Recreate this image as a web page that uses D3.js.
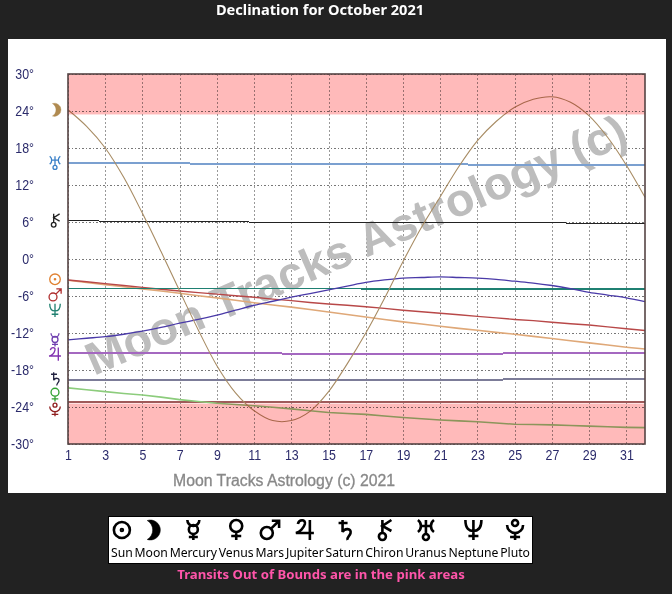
<!DOCTYPE html>
<html><head><meta charset="utf-8">
<script src="https://cdn.jsdelivr.net/npm/d3@7/dist/d3.min.js"></script>
<style>html,body{margin:0;padding:0;background:#222}svg{display:block}</style>
</head><body><svg id="c" width="672" height="594"></svg>
<script>
const days = [1,2,3,4,5,6,7,8,9,10,11,12,13,14,15,16,17,18,19,20,21,22,23,24,25,26,27,28,29,30,31,32];
const dayTicks = [1,3,5,7,9,11,13,15,17,19,21,23,25,27,29,31];
const degTicks = [30,24,18,12,6,0,-6,-12,-18,-24,-30];
const moon = [24.2,21.5,18,13.2,7.4,1.2,-5.2,-11.5,-17.3,-21.7,-24.6,-26.2,-26.2,-24.7,-21.5,-17,-12,-6.4,-0.4,5.2,10.1,15,19.2,22.3,24.6,25.9,26.3,25.4,23.2,19.7,15.2,10];
const uranus = [15.6,15.6,15.6,15.6,15.6,15.6,15.6,15.4,15.4,15.4,15.4,15.4,15.4,15.4,15.4,15.4,15.4,15.4,15.4,15.4,15.4,15.4,15.25,15.25,15.25,15.25,15.25,15.25,15.25,15.25,15.25,15.25];
const chiron = [6.25,6.25,6.12,6.12,6.12,6.12,6.12,6.12,6.12,6.12,5.95,5.95,5.95,5.95,5.95,5.95,5.95,5.95,5.95,5.95,5.95,5.95,5.95,5.95,5.95,5.95,5.95,5.8,5.8,5.8,5.8,5.8];
const neptune = [-4.75,-4.75,-4.75,-4.75,-4.75,-4.75,-4.75,-4.75,-4.75,-4.75,-4.75,-4.75,-4.75,-4.75,-4.75,-4.75,-4.85,-4.85,-4.85,-4.85,-4.85,-4.85,-4.85,-4.85,-4.85,-4.85,-4.85,-4.85,-4.85,-4.85,-4.85,-4.85];
const sun = [-3.45,-3.8,-4.15,-4.5,-4.85,-5.2,-5.55,-5.95,-6.3,-6.7,-7.1,-7.45,-7.8,-8.2,-8.6,-9,-9.4,-9.8,-10.2,-10.55,-10.9,-11.25,-11.55,-11.9,-12.2,-12.55,-12.9,-13.25,-13.6,-13.95,-14.3,-14.6];
const mars = [-3.4,-3.7,-4,-4.3,-4.6,-4.9,-5.2,-5.45,-5.7,-5.95,-6.2,-6.5,-6.75,-7.05,-7.3,-7.5,-7.75,-8,-8.3,-8.55,-8.8,-9.05,-9.3,-9.55,-9.8,-10,-10.25,-10.5,-10.7,-11,-11.3,-11.6];
const mercury = [-13.1,-12.85,-12.6,-12.2,-11.7,-11.1,-10.4,-9.8,-9.1,-8.3,-7.5,-6.85,-6.2,-5.6,-5,-4.4,-3.8,-3.4,-3.1,-3,-2.9,-3,-3.1,-3.3,-3.6,-3.9,-4.3,-4.8,-5.4,-5.85,-6.3,-6.9];
const jupiter = [-15.25,-15.25,-15.25,-15.25,-15.25,-15.25,-15.25,-15.25,-15.25,-15.25,-15.25,-15.25,-15.4,-15.4,-15.4,-15.4,-15.4,-15.4,-15.4,-15.4,-15.4,-15.4,-15.4,-15.4,-15.2,-15.2,-15.2,-15.2,-15.2,-15.2,-15.2,-15.2];
const saturn = [-19.6,-19.6,-19.6,-19.6,-19.6,-19.6,-19.6,-19.6,-19.6,-19.6,-19.6,-19.6,-19.6,-19.6,-19.6,-19.6,-19.6,-19.6,-19.6,-19.6,-19.6,-19.6,-19.6,-19.6,-19.45,-19.45,-19.45,-19.45,-19.45,-19.45,-19.45,-19.45];
const venus = [-20.9,-21.2,-21.5,-21.8,-22.05,-22.4,-22.8,-23.1,-23.4,-23.6,-23.8,-24.05,-24.3,-24.6,-24.9,-25.05,-25.2,-25.45,-25.7,-25.9,-26.1,-26.25,-26.4,-26.6,-26.8,-26.85,-26.9,-27,-27.1,-27.2,-27.3,-27.35];
const pluto = [-23.15,-23.15,-23.15,-23.15,-23.15,-23.15,-23.15,-23.15,-23.15,-23.15,-23.15,-23.15,-23.15,-23.15,-23.15,-23.15,-23.15,-23.15,-23.15,-23.15,-23.15,-23.15,-23.15,-23.15,-23.15,-23.15,-23.15,-23.15,-23.15,-23.15,-23.15,-23.15];
const planetNames = ["Sun","Moon","Mercury","Venus","Mars","Jupiter","Saturn","Chiron","Uranus","Neptune","Pluto"];
const outOfBounds = 23.44;
const titleText = "Declination for October 2021";
const creditText = "Moon Tracks Astrology (c) 2021";
const watermarkText = "Moon Tracks Astrology (c)";
const captionText = "Transits Out of Bounds are in the pink areas";

// astrological symbols as small stroke drawings on a -10..10 box
const symbolPaths = {
 Sun:"M8,0A8,8 0 1 1 -8,0A8,8 0 1 1 8,0M1,0A1,1 0 1 1 -1,0A1,1 0 1 1 1,0",
 Moon:"M-4,-9.5A10,10 0 1 1 -4,9.5A11,11 0 0 0 -4,-9.5Z",
 Mercury:"M-6,-10A6,6 0 0 0 6,-10M4.5,-0.5A4.5,4.5 0 1 1 -4.5,-0.5A4.5,4.5 0 1 1 4.5,-0.5M0,4V10M-4.5,7H4.5",
 Venus:"M6,-4A6,6 0 1 1 -6,-4A6,6 0 1 1 6,-4M0,2V10M-5,6H5",
 Mars:"M3,3A6,6 0 1 1 -9,3A6,6 0 1 1 3,3M1.3,-1.3L9,-9M2,-9.3H9.3V-2",
 Jupiter:"M-7,-6C-6,-11 1,-11 0,-6C-1,-2 -5,2 -9,3H9M5,-10V10",
 Saturn:"M-6,-7H3M-2,-10V2C0,-2 7,-2 6,3C5.5,6 2,7 3,10",
 Chiron:"M1.5,6.5A3.5,3.5 0 1 1 -5.5,6.5A3.5,3.5 0 1 1 1.5,6.5M-2,3V-10M7,-10L-2,-4L7,1",
 Uranus:"M0,-10V4M3,7A3,3 0 1 1 -3,7A3,3 0 1 1 3,7M-6,-4H6M-8,-10C-4,-7 -4,-1 -8,2M8,-10C4,-7 4,-1 8,2",
 Neptune:"M-8,-10C-8,-1 -4,1 0,1C4,1 8,-1 8,-10M0,-10V10M-5,6H5",
 Pluto:"M-8,-5A8,8 0 0 0 8,-5M3,-7A3,3 0 1 1 -3,-7A3,3 0 1 1 3,-7M0,3V10M-5,7H5"
};

const svg = d3.select("#c");
const L=68,R=645,T=74,B=444;
const x = d3.scaleLinear().domain([1,32]).range([L,R]);
const y = d3.scaleLinear().domain([-30,30]).range([B,T]);
const axisFont = "'Liberation Sans',sans-serif";

svg.append("rect").attr("width",672).attr("height",594).attr("fill","#222");
svg.append("rect").attr("x",8).attr("y",39).attr("width",658).attr("height",454).attr("fill","#fff");

svg.append("text").attr("x",320).attr("y",14.5).attr("text-anchor","middle")
  .attr("font-family","'Noto Sans',sans-serif").attr("font-weight",700).attr("font-size",14.6).attr("fill","#fff").text(titleText);

// grid and axes
const gy = svg.append("g").attr("transform",`translate(${L},0)`)
  .call(d3.axisLeft(y).tickValues(degTicks).tickSize(-(R-L)).tickFormat(d=>d+"°").tickPadding(34));
const gx = svg.append("g").attr("transform",`translate(0,${B})`)
  .call(d3.axisBottom(x).tickValues(dayTicks).tickSize(-(B-T)).tickFormat(d3.format("d")).tickPadding(5));
[gy,gx].forEach(g=>{
  g.select(".domain").remove();
  g.selectAll("text").attr("font-family",axisFont).attr("font-size",15.5).attr("fill","#2b2b6b")
    .each(function(){ d3.select(this).attr("lengthAdjust","spacingAndGlyphs").attr("textLength",this.getComputedTextLength()*0.8); });
});
gy.selectAll("line").attr("stroke","#777").attr("stroke-dasharray","1.5,2").attr("shape-rendering","crispEdges");
gx.selectAll("line").attr("stroke","#999").attr("stroke-dasharray","2,2").attr("shape-rendering","crispEdges");

// watermark
svg.append("text").attr("transform","translate(94,376) rotate(-23.5)")
  .attr("font-family","'Liberation Sans',sans-serif").attr("font-weight",700).attr("font-size",46)
  .attr("lengthAdjust","spacingAndGlyphs").attr("textLength",585)
  .attr("fill","#bdbdbd").text(watermarkText);

// series
const straight = d3.line().x((d,i)=>x(days[i])).y(d=>y(d));
const curved = d3.line().x((d,i)=>x(days[i])).y(d=>y(d)).curve(d3.curveCatmullRom);
const series = [
 {v:pluto,c:"#a05a5a",w:2,crisp:1},
 {v:saturn,c:"#7c7c98",w:2,crisp:1},
 {v:jupiter,c:"#a468c0",w:2,crisp:1},
 {v:venus,c:"#8ccc7c",w:1.6,crisp:0},
 {v:uranus,c:"#7ba0d0",w:2,crisp:1},
 {v:chiron,c:"#222",w:1,crisp:1},
 {v:sun,c:"#dfa878",w:1.6,crisp:0},
 {v:mars,c:"#b84848",w:1.4,crisp:0},
 {v:neptune,c:"#1f8072",w:1.5,crisp:1},
 {v:mercury,c:"#4a3aa8",w:1.3,crisp:0,curve:1},
 {v:moon,c:"#a88c64",w:1.1,crisp:0,curve:1}
];
svg.append("g").selectAll("path").data(series).join("path")
  .attr("d",d=>(d.curve?curved:straight)(d.v)).attr("fill","none").attr("stroke",d=>d.c).attr("stroke-width",d=>d.w)
  .attr("shape-rendering",d=>d.crisp?"crispEdges":"auto");

// pink out of bounds bands (multiply over lines)
const bands = [[30,outOfBounds],[-outOfBounds,-30]];
svg.append("g").selectAll("rect").data(bands).join("rect")
  .attr("x",L).attr("width",R-L).attr("y",d=>y(d[0])).attr("height",d=>y(d[1])-y(d[0]))
  .attr("fill","#ffbaba").style("mix-blend-mode","multiply");

// frame
svg.append("rect").attr("x",L).attr("y",T).attr("width",R-L).attr("height",B-T)
  .attr("fill","none").attr("stroke","#544").attr("stroke-width",1.6);

// planet symbols at the left of the plot, nudged apart as in the source
const sideSymbols = [
 {p:"Moon",v:moon[0],c:"#b08a50",n:0},
 {p:"Uranus",v:uranus[0],c:"#3a80c8",n:0},
 {p:"Chiron",v:chiron[0],c:"#222",n:0},
 {p:"Sun",v:sun[0],c:"#e08030",n:-1},
 {p:"Mars",v:mars[0],c:"#b03030",n:15},
 {p:"Neptune",v:neptune[0],c:"#208070",n:22},
 {p:"Mercury",v:mercury[0],c:"#7040b0",n:0},
 {p:"Jupiter",v:jupiter[0],c:"#8030b0",n:1},
 {p:"Saturn",v:saturn[0],c:"#222240",n:-1},
 {p:"Venus",v:venus[0],c:"#30a030",n:7},
 {p:"Pluto",v:pluto[0],c:"#902020",n:8}
];
svg.append("g").selectAll("path").data(sideSymbols).join("path")
  .attr("transform",d=>`translate(55,${y(d.v)+d.n}) scale(0.66)`)
  .attr("d",d=>symbolPaths[d.p])
  .attr("fill",d=>d.p==="Moon"?d.c:"none").attr("stroke",d=>d.c).attr("stroke-width",d=>d.p==="Moon"?0.5:2);

// credit
svg.append("text").attr("x",173).attr("y",486).attr("font-family","'Liberation Sans',sans-serif")
  .attr("font-size",15.8).attr("fill","#888").attr("stroke","#888").attr("stroke-width",0.3).text(creditText);

// legend
svg.append("rect").attr("x",108.5).attr("y",516.5).attr("width",424).attr("height",47).attr("fill","#fff").attr("stroke","#000");
const lg = svg.append("g");
const labels = lg.selectAll("text").data(planetNames).join("text")
  .attr("y",557).attr("font-family","'Noto Sans',sans-serif").attr("font-size",12.2).attr("fill","#000").text(d=>d);
const widths = labels.nodes().map(n=>n.getComputedTextLength());
const total = d3.sum(widths), gap = (530-111-total)/(widths.length-1);
let cur = 111; const centers = widths.map(w=>{const c=cur+w/2;cur+=w+gap;return c;});
labels.attr("x",(d,i)=>centers[i]).attr("text-anchor","middle");
lg.selectAll("path").data(planetNames).join("path")
  .attr("transform",(d,i)=>`translate(${centers[i]},530)`)
  .attr("d",d=>symbolPaths[d])
  .attr("fill",d=>d==="Moon"?"#000":"none").attr("stroke","#000").attr("stroke-width",d=>d==="Moon"?0.5:2.6);

svg.append("text").attr("x",321).attr("y",579).attr("text-anchor","middle")
  .attr("font-family","'Noto Sans',sans-serif").attr("font-weight",700).attr("font-size",13.2).attr("fill","#ff55aa").text(captionText);
</script></body></html>
